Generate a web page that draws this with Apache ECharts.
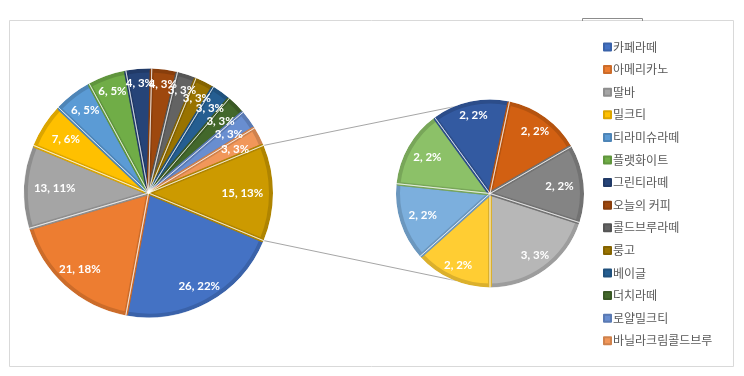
<!DOCTYPE html>
<html>
<head>
<meta charset="utf-8">
<script src="https://cdn.jsdelivr.net/npm/echarts@6/dist/echarts.min.js"></script>
<style>
  html, body { margin: 0; padding: 0; background: #fff; }
  #chart { width: 744px; height: 376px; }
</style>
</head>
<body>
<div id="chart"></div>
<script>
// ---- data ----
const categories = ['카페라떼', '아메리카노', '딸바', '밀크티', '티라미슈라떼', '플랫화이트', '그린티라떼',
  '오늘의 커피', '콜드브루라떼', '룽고', '베이글', '더치라떼', '로얄밀크티', '바닐라크림콜드브루'];
const mainValues = [26, 21, 13, 7, 6, 6, 4, 4, 3, 3, 3, 3, 3, 3];
const otherName = '기타';
const secondaryNames = ['기타 1', '기타 2', '기타 3', '기타 4', '기타 5', '기타 6', '기타 7'];
const secondaryValues = [3, 2, 2, 2, 2, 2, 2];

// ---- styles ----
const mainColors = ['#4472C4', '#ED7D31', '#A5A5A5', '#FFC000', '#5B9BD5', '#70AD47', '#264478',
  '#9E480E', '#636363', '#997300', '#255E91', '#43682B', '#698ED0', '#F1975A'];
const otherColor = '#CC9A00';
const secondaryColors = ['#B7B7B7', '#FFCD33', '#7CAFDD', '#8CC168', '#335AA1', '#D26012', '#848484'];

const otherValue = secondaryValues.reduce((a, b) => a + b, 0);
const mainAll = mainValues.concat([otherValue]);
const total = mainAll.reduce((a, b) => a + b, 0);

function shade(hex, f) {
  const n = parseInt(hex.slice(1), 16);
  const r = Math.round(((n >> 16) & 255) * f), g = Math.round(((n >> 8) & 255) * f), b = Math.round((n & 255) * f);
  return 'rgb(' + r + ',' + g + ',' + b + ')';
}

const mainCenter = [148.5, 193], mainR = 122.5;
const secCenter = [490, 193.5], secR = 92;
const otherHalf = otherValue / total * 360 / 2;
const mainStart = -otherHalf;
const secStart = -90 + secondaryValues[0] / otherValue * 360;

const mainData = categories.map((n, i) => ({
  name: n, value: mainValues[i],
  itemStyle: { color: mainColors[i], borderColor: shade(mainColors[i], 0.86) }
}));
mainData.push({ name: otherName, value: otherValue,
  itemStyle: { color: otherColor, borderColor: shade(otherColor, 0.86) } });

const secData = secondaryNames.map((n, i) => ({
  name: n, value: secondaryValues[i],
  itemStyle: { color: secondaryColors[i], borderColor: shade(secondaryColors[i], 0.86) }
}));

const labelFmt = p => p.value + ', ' + Math.round(p.value / total * 100) + '%';
const labelStyle = {
  show: true, position: 'inside', formatter: labelFmt,
  color: '#ffffff', fontFamily: 'Lato', fontWeight: 'bold', fontSize: 11.5
};

const rad = d => d * Math.PI / 180;

// label placement: radius ratio depends on the slice's mid angle (like Excel best fit)
function makeLabelLayout(values, startAngle, center, R, base, k) {
  const tot = values.reduce((a, b) => a + b, 0);
  const cum = [];
  let acc = 0;
  values.forEach(v => { cum.push(acc); acc += v; });
  return function (params) {
    const i = params.dataIndex;
    const mid = rad(startAngle - (cum[i] + values[i] / 2) / tot * 360);
    const c = Math.cos(mid), s = Math.sin(mid);
    const ratio = base - k * c * c;
    return { x: center[0] + R * ratio * c, y: center[1] - R * ratio * s, hideOverlap: false, moveOverlap: null };
  };
}

// connector lines computed from slice geometry
const connAngle = 111;
const mR = mainR + 1.5, sR = secR + 1.5;
const p1 = [mainCenter[0] + mR * Math.cos(rad(otherHalf)), mainCenter[1] - mR * Math.sin(rad(otherHalf))];
const p2 = [mainCenter[0] + mR * Math.cos(rad(-otherHalf)), mainCenter[1] - mR * Math.sin(rad(-otherHalf))];
const q1 = [secCenter[0] + sR * Math.cos(rad(connAngle)), secCenter[1] - sR * Math.sin(rad(connAngle))];
const q2 = [secCenter[0] + sR * Math.cos(rad(-connAngle)), secCenter[1] - sR * Math.sin(rad(-connAngle))];

const chart = echarts.init(document.getElementById('chart'), null, { renderer: 'canvas' });
const sepStyle = { color: 'rgba(0,0,0,0)', borderColor: 'rgba(255,255,255,0.55)', borderWidth: 1 };

chart.setOption({
  animation: false,
  backgroundColor: '#ffffff',
  legend: {
    orient: 'vertical',
    left: 598, top: 36,
    data: categories,
    icon: 'rect', itemWidth: 7, itemHeight: 7, itemGap: 10.6,
    selectedMode: false,
    textStyle: { fontFamily: 'Noto Sans CJK KR', fontSize: 12, color: '#595959', lineHeight: 12, padding: [0, 0, 0, -3] }
  },
  graphic: [
    { type: 'rect', shape: { x: 9.5, y: 20.5, width: 724, height: 346 }, style: { fill: 'none', stroke: '#D9D9D9', lineWidth: 1 }, silent: true, z: -1 },
    { type: 'polyline', shape: { points: [[582.5, 21], [582.5, 18.5], [642.5, 18.5], [642.5, 21]] }, style: { fill: 'none', stroke: '#8C8C8C', lineWidth: 1 }, silent: true },
    { type: 'line', shape: { x1: p1[0], y1: p1[1], x2: q1[0], y2: q1[1] }, style: { stroke: '#A6A6A6', lineWidth: 1 }, silent: true },
    { type: 'line', shape: { x1: p2[0], y1: p2[1], x2: q2[0], y2: q2[1] }, style: { stroke: '#A6A6A6', lineWidth: 1 }, silent: true }
  ],
  series: [
    {
      type: 'pie', center: mainCenter, radius: [0, mainR], startAngle: mainStart, clockwise: true,
      avoidLabelOverlap: false, label: { show: false }, labelLine: { show: false },
      itemStyle: { borderWidth: 4 }, emphasis: { disabled: true }, data: mainData, silent: true, z: 2
    },
    {
      type: 'pie', center: secCenter, radius: [0, secR], startAngle: secStart, clockwise: true,
      avoidLabelOverlap: false, label: { show: false }, labelLine: { show: false },
      itemStyle: { borderWidth: 4 }, emphasis: { disabled: true }, data: secData, silent: true, z: 2
    },
    {
      type: 'pie', center: mainCenter, radius: [0, mainR + 2.5], startAngle: mainStart, clockwise: true,
      avoidLabelOverlap: false, label: labelStyle, labelLine: { show: false },
      labelLayout: makeLabelLayout(mainAll, mainStart, mainCenter, mainR + 1, 0.89, 0.13),
      itemStyle: sepStyle, emphasis: { disabled: true }, silent: true, z: 3,
      data: mainData.map(d => ({ name: d.name, value: d.value, itemStyle: sepStyle }))
    },
    {
      type: 'pie', center: secCenter, radius: [0, secR + 2.5], startAngle: secStart, clockwise: true,
      avoidLabelOverlap: false, label: labelStyle, labelLine: { show: false },
      labelLayout: makeLabelLayout(secondaryValues, secStart, secCenter, secR + 1, 0.86, 0.11),
      itemStyle: sepStyle, emphasis: { disabled: true }, silent: true, z: 3,
      data: secData.map(d => ({ name: d.name, value: d.value, itemStyle: sepStyle }))
    }
  ]
});
</script>
</body>
</html>
